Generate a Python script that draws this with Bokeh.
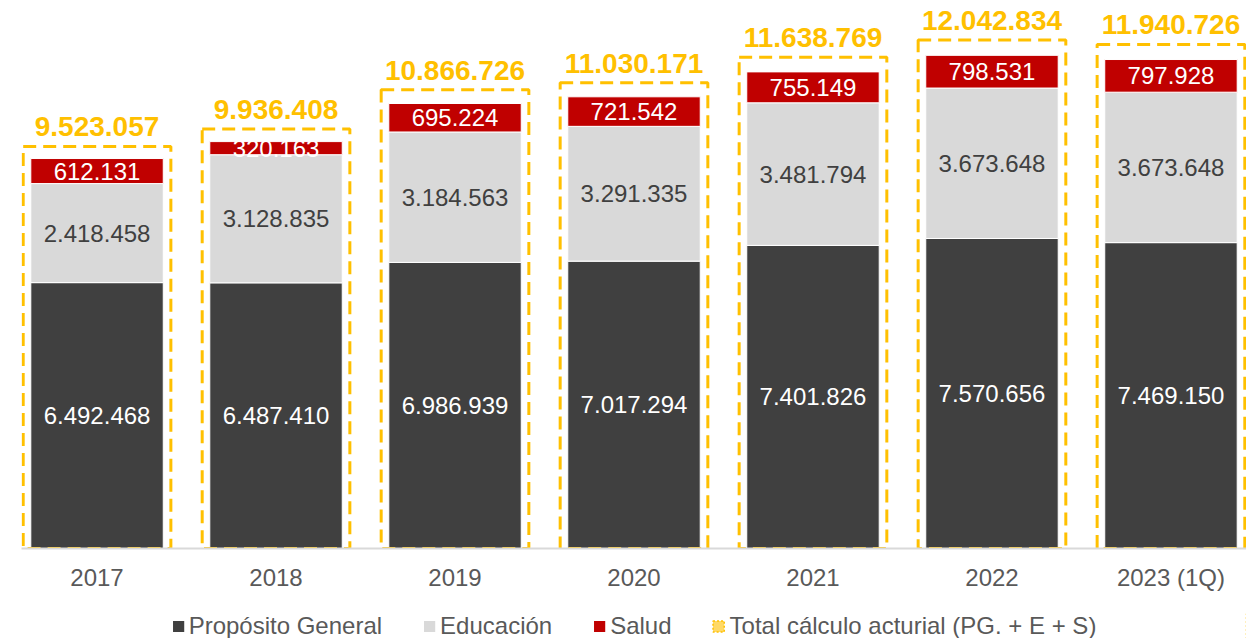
from bokeh.plotting import figure
from bokeh.layouts import column
from bokeh.models import ColumnDataSource, FactorRange, Range1d, Legend, LegendItem
from bokeh.core.properties import value
from bokeh.embed import file_html
from bokeh.resources import INLINE

years = ["2017", "2018", "2019", "2020", "2021", "2022", "2023 (1Q)"]
proposito = [6492468, 6487410, 6986939, 7017294, 7401826, 7570656, 7469150]
educacion = [2418458, 3128835, 3184563, 3291335, 3481794, 3673648, 3673648]
salud = [612131, 320163, 695224, 721542, 755149, 798531, 797928]
total = [9523057, 9936408, 10866726, 11030171, 11638769, 12042834, 11940726]

series_names = ["Propósito General", "Educación", "Salud", "Total cálculo acturial (PG. + E + S)"]

C_DARK = "#404040"
C_LIGHT = "#D9D9D9"
C_RED = "#C00000"
C_YEL = "#FFC000"
FONT = value("Liberation Sans")


def fmt(v):
    return f"{v:,}".replace(",", ".")


src = ColumnDataSource(dict(
    year=years,
    pg=proposito,
    ed=educacion,
    sa=salud,
    tot=total,
    pg_mid=[a / 2 for a in proposito],
    ed_mid=[a + b / 2 for a, b in zip(proposito, educacion)],
    sa_mid=[a + b + c / 2 for a, b, c in zip(proposito, educacion, salud)],
    pg_lbl=[fmt(v) for v in proposito],
    ed_lbl=[fmt(v) for v in educacion],
    sa_lbl=[fmt(v) for v in salud],
    tot_lbl=[fmt(v) for v in total],
))

p = figure(
    x_range=FactorRange(*years, range_padding=-0.078, range_padding_units="absolute"),
    y_range=Range1d(0, 13382000),
    width=1246, height=613,
    output_backend="svg", toolbar_location=None,
    y_axis_location=None,
    min_border_left=21, min_border_right=0, min_border_top=0, min_border_bottom=65,
)
p.extra_y_ranges = {"box": Range1d(0, 12980000)}
p.xgrid.visible = False
p.ygrid.visible = False
p.outline_line_color = None

r_stack = p.vbar_stack(["pg", "ed", "sa"], x="year", width=0.74, source=src,
                       color=[C_DARK, C_LIGHT, C_RED], line_color="white", line_width=1)

p.vbar(x="year", top="tot", bottom=0, width=0.825, source=src, y_range_name="box",
       fill_alpha=0, line_color=C_YEL, line_width=3, line_dash="13 7")

p.text(x="year", y="pg_mid", text="pg_lbl", source=src, text_color="white",
       text_font=FONT, text_font_size="24px", text_align="center", text_baseline="middle")
p.text(x="year", y="ed_mid", text="ed_lbl", source=src, text_color=C_DARK,
       text_font=FONT, text_font_size="24px", text_align="center", text_baseline="middle")
p.text(x="year", y="sa_mid", text="sa_lbl", source=src, text_color="white",
       text_font=FONT, text_font_size="24px", text_align="center", text_baseline="middle")
p.text(x="year", y="tot", text="tot_lbl", source=src, y_range_name="box", text_color=C_YEL,
       text_font=FONT, text_font_size="28px", text_font_style="bold",
       text_align="center", text_baseline="bottom", y_offset=-10)

ax = p.xaxis[0]
ax.axis_line_color = C_LIGHT
ax.axis_line_width = 2
ax.major_tick_line_color = None
ax.minor_tick_line_color = None
ax.major_label_standoff = 9
ax.major_label_text_font = "Liberation Sans"
ax.major_label_text_font_size = "24px"
ax.major_label_text_color = "#595959"

# legend strip: proxies drawn outside the visible range, shown only as legend swatches
q = figure(width=1246, height=25, x_range=Range1d(0, 1), y_range=Range1d(0, 1),
           output_backend="svg", toolbar_location=None,
           x_axis_location=None, y_axis_location=None,
           min_border_left=0, min_border_right=0, min_border_top=0, min_border_bottom=0)
q.xgrid.visible = False
q.ygrid.visible = False
q.outline_line_color = None
l_pg = q.vbar(x=[5], top=[1], width=0.5, fill_color=C_DARK, line_color=None)
l_ed = q.vbar(x=[5], top=[1], width=0.5, fill_color=C_LIGHT, line_color=None)
l_sa = q.vbar(x=[5], top=[1], width=0.5, fill_color=C_RED, line_color=None)
l_to = q.vbar(x=[5], top=[1], width=0.5, fill_color="#FFD966", line_color=C_YEL,
              line_width=1.5, line_dash="2 2")

legend = Legend(items=[
    LegendItem(label=series_names[0], renderers=[l_pg]),
    LegendItem(label=series_names[1], renderers=[l_ed]),
    LegendItem(label=series_names[2], renderers=[l_sa]),
    LegendItem(label=series_names[3], renderers=[l_to]),
], orientation="horizontal", location="center")
legend.label_text_font = "Liberation Sans"
legend.label_text_font_size = "24px"
legend.label_text_color = "#595959"
legend.glyph_width = 14
legend.glyph_height = 14
legend.label_standoff = 4
legend.spacing = 40
legend.padding = 0
legend.margin = 0
legend.border_line_alpha = 0
legend.background_fill_alpha = 0
q.add_layout(legend, "center")

layout = column(p, q, spacing=0)
open("out.html", "w").write(file_html(layout, INLINE))
